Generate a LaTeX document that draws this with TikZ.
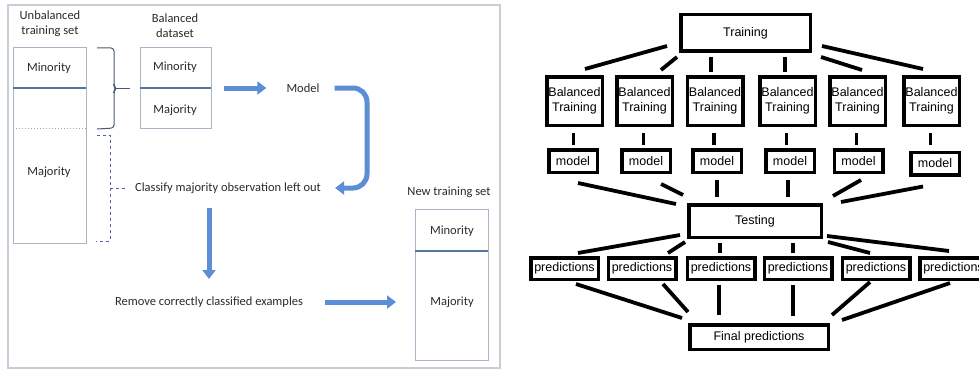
\documentclass[tikz,border=0pt]{standalone}
\usepackage{fontspec}
\setmainfont{Carlito}
\newfontfamily\arialf{Liberation Sans}
\usetikzlibrary{calc,arrows.meta}
\definecolor{framegray}{HTML}{C9CED6}
\definecolor{boxgray}{HTML}{A9B4C4}
\definecolor{sepblue}{HTML}{56769E}
\definecolor{bracegray}{HTML}{4A5870}
\definecolor{dashblue}{HTML}{5A5CB0}
\definecolor{flowblue}{HTML}{5B8ED4}
\definecolor{txtgray}{HTML}{2A2A2A}
\tikzset{
  lbl/.style={text=txtgray, font=\fontsize{12.5}{15}\selectfont, inner sep=0pt, align=center},
  setbox/.style={draw=boxgray, line width=0.9pt},
  sepline/.style={draw=sepblue, line width=1.4pt},
  flow/.style={draw=flowblue, line width=5pt, -{Triangle[width=13pt,length=9pt]}},
  rbox/.style={draw=black, line width=3.5pt, inner sep=0pt, font=\arialf\fontsize{12.5}{15}\selectfont, align=center},
  link/.style={draw=black, line width=3.8pt},
}
\begin{document}
\begin{tikzpicture}[x=1pt,y=-1pt]
\useasboundingbox (0,0) rectangle (979,369);

% ---------- left panel: undersampling loop ----------
\draw[framegray, line width=1.5pt] (8,5) rectangle (500,368);

\node[lbl] (unbal) at (50,24) {Unbalanced\\training set};
\node[lbl] (baldata) at (175,26) {Balanced\\dataset};

% unbalanced training set
\draw[setbox] (13,47) rectangle (86,243);
\draw[sepline] (13,88) -- (86,88);
\draw[gray!70, line width=1pt, dotted] (13,128) -- (86,128);
\node[lbl] (umin) at (49,68) {Minority};
\node[lbl] (umaj) at (49,172) {Majority};

% balanced dataset
\draw[setbox] (140,47) rectangle (211,128);
\draw[sepline] (140,88) -- (211,88);
\node[lbl] (bmin) at (175,67) {Minority};
\node[lbl] (bmaj) at (175,110) {Majority};

% brace gathering minority and part of majority
\draw[bracegray, line width=1pt, rounded corners=3pt]
  (97,48) -- (114,48) -- (114,86) -- (116,88.5) -- (114,91) -- (114,128) -- (97,129);
\draw[bracegray, line width=1pt] (116,88.5) -- (130,88.5);

% dashed brace for the left-out majority
\draw[dashblue, line width=1pt, dashed] (97,135) -- (110,135) -- (110,241) -- (96,241);
\draw[dashblue, line width=1pt, dashed] (110,188) -- (126,188);

\node[lbl] (model) at (303,88) {Model};
\node[lbl] (classify) at (228,188) {Classify majority observation left out};
\node[lbl] (remove) at (209,302) {Remove correctly classified examples};
\node[lbl] (newset) at (449,192) {New training set};

% new training set
\draw[setbox] (415,209) rectangle (488,360);
\draw[sepline] (415,251) -- (488,251);
\node[lbl] (nmin) at (452,231) {Minority};
\node[lbl] (nmaj) at (452,302) {Majority};

% flow arrows
\draw[flow, shorten >=20pt] (224,88) -- (model.west);
\draw[flow, rounded corners=14pt, shorten <=15pt, shorten >=14pt]
  (model.east) -- (367,88) -- (367,188) -- (classify.east);
\draw[flow] (209,208) -- (209,279);
\draw[flow, shorten <=22pt] (remove.east) -- (396,302);

% ---------- right panel: ensemble tree ----------
\node[rbox, minimum width=129.5pt, minimum height=36.5pt] (tr) at (745.5,33) {Training};

\foreach \i/\x in {1/574.5,2/644.5,3/715,4/787.5,5/857.5,6/931.5}
  \node[rbox, minimum width=55.5pt, minimum height=48.5pt] (b\i) at (\x,101) {Balanced\\Training};

\foreach \i/\x/\y in {1/573/161,2/646/161,3/717/161,4/790/161,5/858.5/161,6/935/163.5}
  \node[rbox, minimum width=48.5pt, minimum height=22.5pt] (m\i) at (\x,\y) {model};

\node[rbox, minimum width=132.5pt, minimum height=32.5pt] (te) at (755,221) {Testing};

\foreach \i/\x in {1/564.5,2/642,3/721,4/798,5/876,6/953.5}
  \node[rbox, minimum width=67.5pt, minimum height=21.5pt] (p\i) at (\x,268.5) {predictions};

\node[rbox, minimum width=138.5pt, minimum height=24.5pt] (fi) at (759,337) {Final predictions};

% training -> balanced training
\draw[link] ($(tr.south west)+(-12,-7)$) -- ($(b1.north)+(10.5,-6)$);
\draw[link] ($(tr.south west)+(-2,4)$) -- ($(b2.north)+(16.5,-5)$);
\draw[link] ($(b3.north)+(-4,-18)$) -- ($(b3.north)+(-4,-3)$);
\draw[link] ($(b4.north)+(-2.5,-18)$) -- ($(b4.north)+(-2.5,-3)$);
\draw[link] ($(tr.south east)+(9,4)$) -- ($(b5.north)+(4.5,-5)$);
\draw[link] ($(tr.south east)+(10,-7)$) -- ($(b6.north)+(-8.5,-6)$);

% balanced training -> model
\foreach \i in {1,...,6}
  \draw[link] ($(b\i.south)+(-1,6)$) -- ($(b\i.south)+(-1,18)$);

% model -> testing
\draw[link] ($(m1.south)+(5,9)$) -- ($(te.north west)+(-11,1)$);
\draw[link] ($(m2.south)+(15,10)$) -- ($(te.north west)+(-4,-8)$);
\draw[link] ($(m3.south)+(0,6)$) -- ($(m3.south)+(0,23)$);
\draw[link] ($(m4.south)+(-2,6)$) -- ($(m4.south)+(-2,23)$);
\draw[link] ($(m5.south)+(2.5,6)$) -- ($(te.north east)+(10,-7)$);
\draw[link] ($(m6.south)+(-12,10)$) -- ($(te.north east)+(18,-1)$);

% testing -> predictions
\draw[link] ($(te.south west)+(-7,-4)$) -- ($(p1.north)+(13.5,-3)$);
\draw[link] ($(te.south west)+(-2,3)$) -- ($(p2.north)+(26,-3)$);
\draw[link] ($(p3.north)+(-1,-13)$) -- ($(p3.north)+(-1,-3)$);
\draw[link] ($(p4.north)+(-5,-13)$) -- ($(p4.north)+(-5,-3)$);
\draw[link] ($(te.south east)+(5,3)$) -- ($(p5.north)+(-6,-3)$);
\draw[link] ($(te.south east)+(4,-3)$) -- ($(p6.north)+(-4.5,-5)$);

% predictions -> final predictions
\draw[link] ($(p1.south)+(11.5,3)$) -- ($(fi.north west)+(-6,-5)$);
\draw[link] ($(p2.south)+(21,3)$) -- ($(fi.north west)+(0,-11)$);
\draw[link] ($(p3.south)+(-2,4)$) -- ($(p3.south)+(-2,34)$);
\draw[link] ($(p4.south)+(-5,4)$) -- ($(p4.south)+(-5,35)$);
\draw[link] ($(p5.south)+(-6,1)$) -- ($(fi.north east)+(2,-8)$);
\draw[link] ($(p6.south)+(-3.5,2)$) -- ($(fi.north east)+(12,-3)$);
\end{tikzpicture}
\end{document}
